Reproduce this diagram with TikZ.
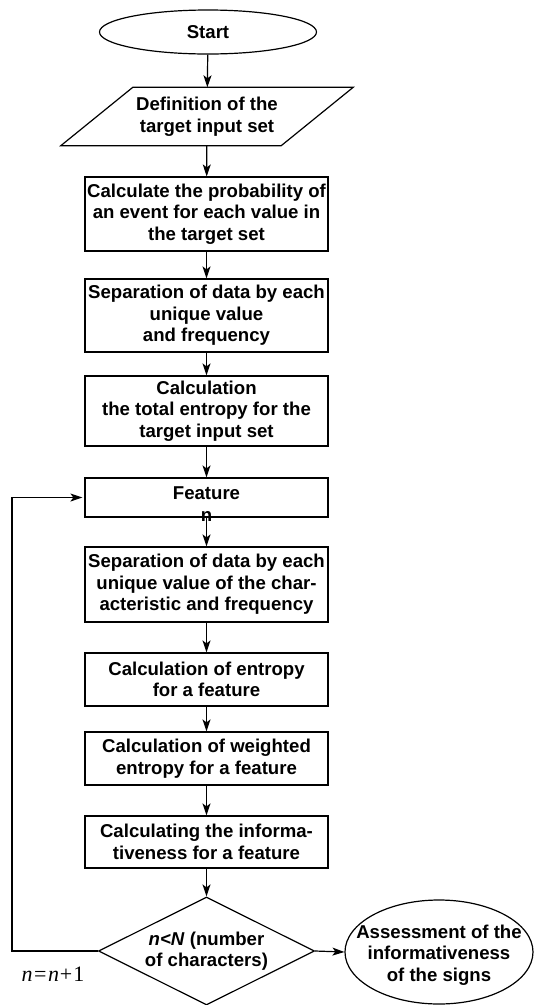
\documentclass[tikz,border=0pt]{standalone}
\usepackage{fontspec}
\setmainfont{Liberation Sans}
\newfontfamily\timesfont{Liberation Serif}
\usetikzlibrary{shapes.geometric,arrows.meta}
\tikzset{
  line/.style={line width=1.2pt},
  arr/.style={line width=1.2pt,-{Stealth[length=12pt,width=8pt,inset=3pt]}},
  txt/.style={font=\fontsize{18.6}{21.5}\selectfont\bfseries, align=center, inner sep=0pt},
  stepbox/.style={txt, draw, line width=1.2pt, rectangle, minimum width=243, inner sep=0pt},
}
\begin{document}
\begin{tikzpicture}[x=1pt,y=-1pt]
\useasboundingbox (0,0) rectangle (534,1005);
% start
\node[txt, ellipse, draw, line width=1.2pt, minimum width=217, minimum height=44] (start) at (208,32) {Start};
% input parallelogram
\node[txt, minimum width=292, minimum height=58] (def) at (207,116.5) {Definition of the\\target input set};
\draw[line] (def.south west) -- ([xshift=-72pt]def.south east) -- (def.north east) -- ([xshift=72pt]def.north west) -- cycle;
% boxes
\node[stepbox, minimum height=74] (b1) at (206.5,214) {Calculate the probability of\\an event for each value in\\the target set};
\node[stepbox, minimum height=73] (b2) at (206.5,315.5) {Separation of data by each\\unique value\\and frequency};
\node[stepbox, minimum height=70] (b3) at (206.5,411) {Calculation\\the total entropy for the\\target input set};
\node[stepbox, minimum height=39] (feat) at (206.5,497.5) {};
\node[txt] (feattxt) at (206.5,504) {Feature\\n};
\node[stepbox, minimum height=75] (b5) at (206.5,584.5) {Separation of data by each\\unique value of the char-\\acteristic and frequency};
\node[stepbox, minimum height=53] (b6) at (206.5,679.5) {Calculation of entropy\\for a feature};
\node[stepbox, minimum height=53] (b7) at (206.5,758.5) {Calculation of weighted\\entropy for a feature};
\node[stepbox, minimum height=52] (b8) at (206.5,842) {Calculating the informa-\\tiveness for a feature};
% decision
\node[txt, diamond, draw, line width=1.2pt, minimum width=216, minimum height=108, aspect=2] (dia) at (206.5,951) {\textit{n<N} (number\\of characters)};
% end ellipse
\node[ellipse, draw, line width=1.2pt, minimum width=188, minimum height=104, inner sep=0pt] (ass) at (439,952) {};
\node[txt] (asstxt) at (439,955) {Assessment of the\\informativeness\\of the signs};
% n=n+1
\node[font=\fontsize{22}{24}\timesfont, inner sep=0pt] (inc) at (53,974) {\textit{n}\kern1.5pt=\kern1.5pt\textit{n}\kern1pt+\kern1pt1};
% connectors
\draw[arr] (start) -- (def);
\draw[arr] (def) -- (b1);
\draw[arr] (b1) -- (b2);
\draw[arr] (b2) -- (b3);
\draw[arr] (b3) -- (feat);
\draw[arr] (feat) -- (b5);
\draw[arr] (b5) -- (b6);
\draw[arr] (b6) -- (b7);
\draw[arr] (b7) -- (b8);
\draw[arr] (b8) -- (dia);
\draw[arr] (dia.east) -- (ass.west);
\coordinate (loop) at (12,951);
\draw[arr] (dia.west) -- (loop) |- ([xshift=-2pt]feat.west);
\end{tikzpicture}
\end{document}
